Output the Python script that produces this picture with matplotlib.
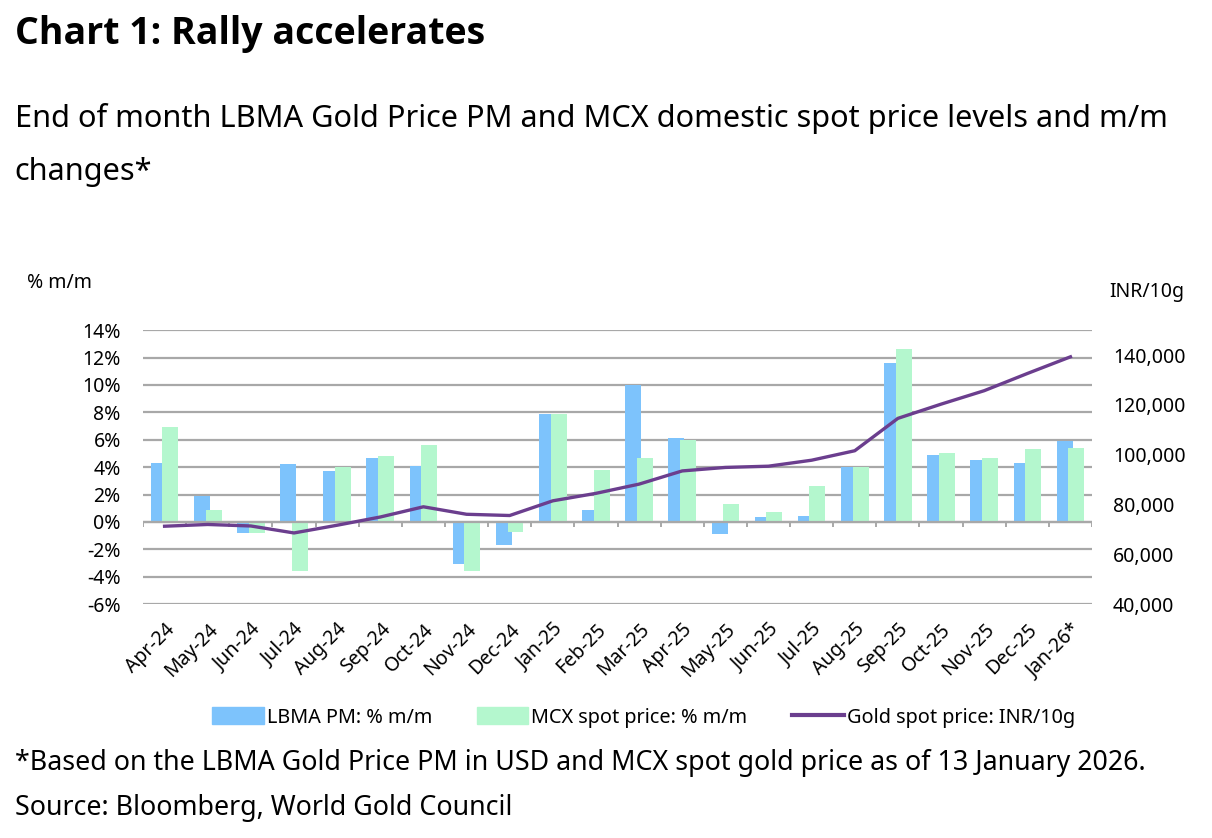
import numpy as np
import matplotlib
matplotlib.use("Agg")
import matplotlib.pyplot as plt
from matplotlib.patches import Patch
from matplotlib.lines import Line2D
from matplotlib.ticker import FuncFormatter

plt.rcParams['font.family'] = ['Noto Sans', 'DejaVu Sans']

# month labels
months = ["Apr-24", "May-24", "Jun-24", "Jul-24", "Aug-24", "Sep-24", "Oct-24",
          "Nov-24", "Dec-24", "Jan-25", "Feb-25", "Mar-25", "Apr-25", "May-25",
          "Jun-25", "Jul-25", "Aug-25", "Sep-25", "Oct-25", "Nov-25", "Dec-25",
          "Jan-26*"]

# m/m changes in %
lbma_mm = [4.3, 1.9, -0.8, 4.2, 3.7, 4.7, 4.1, -3.1, -1.7, 7.9, 0.9, 10.0,
           6.1, -0.9, 0.4, 0.45, 4.0, 11.6, 4.9, 4.5, 4.3, 5.9]
mcx_mm = [6.9, 0.9, -0.8, -3.6, 4.0, 4.8, 5.6, -3.6, -0.7, 7.9, 3.8, 4.7,
          6.0, 1.3, 0.7, 2.6, 4.0, 12.6, 5.0, 4.7, 5.3, 5.4]

# gold spot price, INR/10g
gold_inr = [71300, 72000, 71400, 68600, 71700, 75000, 79100, 76100, 75600,
            81500, 84500, 88200, 93500, 94900, 95400, 97800, 101600, 114600,
            120300, 125700, 132600, 139300]

left_ticks = [-6, -4, -2, 0, 2, 4, 6, 8, 10, 12, 14]
right_ticks = [40000, 60000, 80000, 100000, 120000, 140000]

BLUE = "#7DC3FC"
GREEN = "#B4F7CE"
PURPLE = "#6B3E8E"
GRID = "#A8A8A8"
FS = 14

fig = plt.figure(figsize=(12.12, 8.38), dpi=100)
ax = fig.add_axes([0.118, 0.279, 0.783, 0.327])

x = np.arange(len(months))
w = 0.37
ax.bar(x - 0.135, lbma_mm, w, color=BLUE, zorder=2)
ax.bar(x + 0.135, mcx_mm, w, color=GREEN, zorder=3)

ax.set_ylim(-6, 14)
ax.set_xlim(-0.5, len(months) - 0.5)
ax.set_yticks(left_ticks)
ax.set_yticklabels([f"{t}%" for t in left_ticks])
ax.yaxis.grid(True, color=GRID, lw=1.6, zorder=0)
ax.set_axisbelow(True)
for s in ax.spines.values():
    s.set_visible(False)
ax.tick_params(axis='y', length=0, pad=16, labelsize=FS)
ax.set_xticks(x)
ax.set_xticklabels(months, rotation=45, ha='right', rotation_mode='anchor')
ax.tick_params(axis='x', length=0, pad=11, labelsize=FS)

# category axis at zero with boundary ticks
ax.axhline(0, color=GRID, lw=1.6, zorder=4)
ax.vlines(np.arange(len(months) + 1) - 0.5, -0.4, 0, color=GRID, lw=1.4, zorder=4)

ax2 = ax.twinx()
ax2.plot(x, gold_inr, color=PURPLE, lw=2.4, zorder=5)
ax2.set_ylim(40000, 150000)
ax2.set_yticks(right_ticks)
ax2.yaxis.set_major_formatter(FuncFormatter(lambda v, p: f"{int(v):,}"))
for s in ax2.spines.values():
    s.set_visible(False)
ax2.tick_params(axis='y', length=0, pad=15, labelsize=FS)

fig.text(0.022, 0.662, "% m/m", fontsize=FS, va='center')
fig.text(0.915, 0.651, "INR/10g", fontsize=FS, va='center')

handles = [Patch(color=BLUE), Patch(color=GREEN), Line2D([], [], color=PURPLE, lw=3)]
labels = ["LBMA PM: % m/m", "MCX spot price: % m/m", "Gold spot price: INR/10g"]
fig.legend(handles, labels, loc='center', bbox_to_anchor=(0.531, 0.144), ncol=3,
           frameon=False, fontsize=14.3, handlelength=2.6, handleheight=0.95,
           handletextpad=0.15, columnspacing=2.25)

fig.text(0.012, 0.959, "Chart 1: Rally accelerates", fontsize=27, fontweight='bold',
         family=['Open Sans', 'DejaVu Sans'], va='center')
fig.text(0.012, 0.858, "End of month LBMA Gold Price PM and MCX domestic spot price levels and m/m",
         fontsize=22.1, va='center')
fig.text(0.012, 0.795, "changes*", fontsize=22.1, va='center')
fig.text(0.012, 0.090, "*Based on the LBMA Gold Price PM in USD and MCX spot gold price as of 13 January 2026.",
         fontsize=19.3, va='center')
fig.text(0.012, 0.036, "Source: Bloomberg, World Gold Council", fontsize=19.3, va='center')

fig.savefig("out.png", dpi=100)
